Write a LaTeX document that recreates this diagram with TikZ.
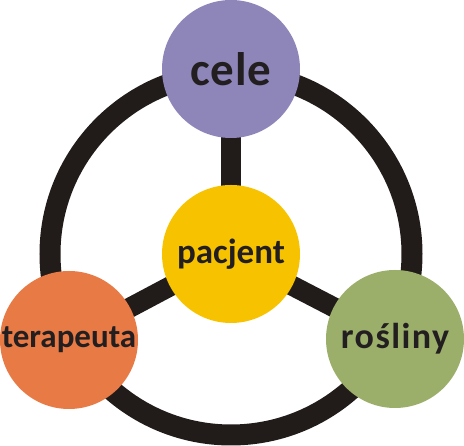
\documentclass[tikz,border=0pt]{standalone}
\usepackage{fontspec}
\setmainfont{Carlito}
\usepackage{xcolor}
\usetikzlibrary{backgrounds}
\definecolor{linedark}{RGB}{33,28,26}
\definecolor{textdark}{RGB}{35,31,32}
\definecolor{lightpurple}{RGB}{142,134,184}
\definecolor{sunyellow}{RGB}{247,195,0}
\definecolor{warmorange}{RGB}{232,122,69}
\definecolor{sagegreen}{RGB}{155,175,107}

\begin{document}
\begin{tikzpicture}[
  x=1pt,y=1pt,
  hub/.style={circle,inner sep=0pt,minimum size=138pt,text=textdark},
  label font/.style 2 args={font=\bfseries\fontsize{#1}{#1}\selectfont\addfontfeature{LetterSpace=#2}},
  ring/.style={draw=linedark,line width=21pt},
  spoke/.style={draw=linedark,line width=20pt}
]
\useasboundingbox (0,0) rectangle (464,446);
\node[hub,fill=sunyellow,label font={35}{0}] (pacjent) at (231,192) {pacjent};
\node[hub,fill=lightpurple,label font={47}{2}] (cele) at (231,377) {cele};
\node[hub,fill=warmorange,label font={33}{0}] (terapeuta) at (69,106) {terapeuta};
\node[hub,fill=sagegreen,label font={36}{4}] (rosliny) at (395,107) {rośliny};
\begin{scope}[on background layer]
  \draw[ring] (pacjent.center) circle (181);
  \draw[spoke] (pacjent.center) -- (cele.center);
  \draw[spoke] (pacjent.center) -- (terapeuta.center);
  \draw[spoke] (pacjent.center) -- (rosliny.center);
\end{scope}
\end{tikzpicture}
\end{document}
